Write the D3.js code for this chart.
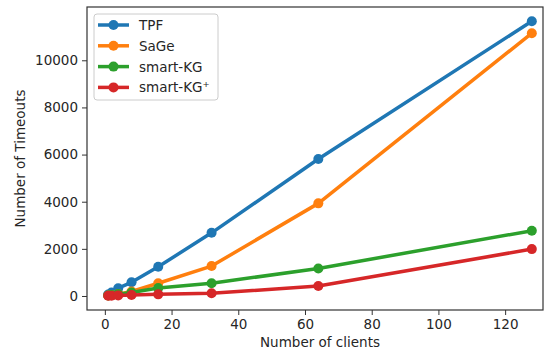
<!DOCTYPE html>
<html><head><meta charset="utf-8">
<script src="https://cdn.jsdelivr.net/npm/d3@7"></script>
<style>body{margin:0;background:#fff}svg{display:block}text{font-family:"DejaVu Sans",sans-serif;fill:#262626}</style>
</head><body><svg id="c" width="544" height="354"></svg>
<script>
const clients = [1, 2, 4, 8, 16, 32, 64, 128];
const seriesNames = ["TPF", "SaGe", "smart-KG", "smart-KG\u207A"];
const tpf = [60, 150, 330, 580, 1240, 2680, 5810, 11660];
const sage = [20, 40, 80, 190, 540, 1270, 3930, 11150];
const smartKG = [20, 40, 80, 150, 340, 540, 1170, 2770];
const smartKGPlus = [10, 15, 25, 40, 70, 115, 425, 1990];
const xTicks = [0, 20, 40, 60, 80, 100, 120];
const yTicks = [0, 2000, 4000, 6000, 8000, 10000];
const colors = ["#1f77b4", "#ff7f0e", "#2ca02c", "#d62728"];

const series = [tpf, sage, smartKG, smartKGPlus].map((v, i) => ({name: seriesNames[i], color: colors[i], values: v}));

const svg = d3.select("#c");
const L = 87, T = 7, R = 553, B = 310;
const x = d3.scaleLinear().domain([-5.35, 134.35]).range([L, R]);
const y = d3.scaleLinear().domain([-594, 12261]).range([B, T]);

const fs = 13.5;
// axes
const gx = svg.append("g").attr("transform", `translate(0,${B})`)
  .call(d3.axisBottom(x).tickValues(xTicks).tickSize(5).tickPadding(4).tickFormat(d3.format("d")));
const gy = svg.append("g").attr("transform", `translate(${L},0)`)
  .call(d3.axisLeft(y).tickValues(yTicks).tickSize(5).tickPadding(4).tickFormat(d3.format("d")));
[gx, gy].forEach(g => {
  g.select(".domain").remove();
  g.selectAll(".tick line").attr("stroke", "#333").attr("stroke-width", 1);
  g.selectAll(".tick text").attr("font-size", fs).attr("fill", "#262626").attr("font-family", "DejaVu Sans");
});

// frame
svg.append("rect").attr("x", L).attr("y", T).attr("width", 543 - L).attr("height", B - T)
  .attr("fill", "none").attr("stroke", "#333").attr("stroke-width", 1.2);

const line = d3.line().x((d, i) => x(clients[i])).y(d => y(d));
series.forEach(s => {
  svg.append("path").datum(s.values).attr("d", line).attr("fill", "none")
    .attr("stroke", s.color).attr("stroke-width", 3.5).attr("stroke-linejoin", "round").attr("stroke-linecap", "square");
  svg.append("g").selectAll("circle").data(s.values).join("circle")
    .attr("cx", (d, i) => x(clients[i])).attr("cy", d => y(d)).attr("r", 5).attr("fill", s.color);
});

// labels
svg.append("text").attr("x", (L + R) / 2).attr("y", 347).attr("text-anchor", "middle")
  .attr("font-size", fs).text("Number of clients");
svg.append("text").attr("transform", `translate(25,${(T + B) / 2}) rotate(-90)`).attr("text-anchor", "middle")
  .attr("font-size", fs).text("Number of Timeouts");

// legend
const lg = svg.append("g");
lg.append("rect").attr("x", 94).attr("y", 14).attr("width", 124).attr("height", 86).attr("rx", 3)
  .attr("fill", "#fff").attr("fill-opacity", 0.8).attr("stroke", "#ccc").attr("stroke-width", 1);
series.forEach((s, i) => {
  const yy = 25 + i * 20.8;
  lg.append("line").attr("x1", 98).attr("x2", 129).attr("y1", yy).attr("y2", yy)
    .attr("stroke", s.color).attr("stroke-width", 3.5);
  lg.append("circle").attr("cx", 113.5).attr("cy", yy).attr("r", 5).attr("fill", s.color);
  lg.append("text").attr("x", 139).attr("y", yy + 5).attr("font-size", fs).text(s.name);
});
</script></body></html>
